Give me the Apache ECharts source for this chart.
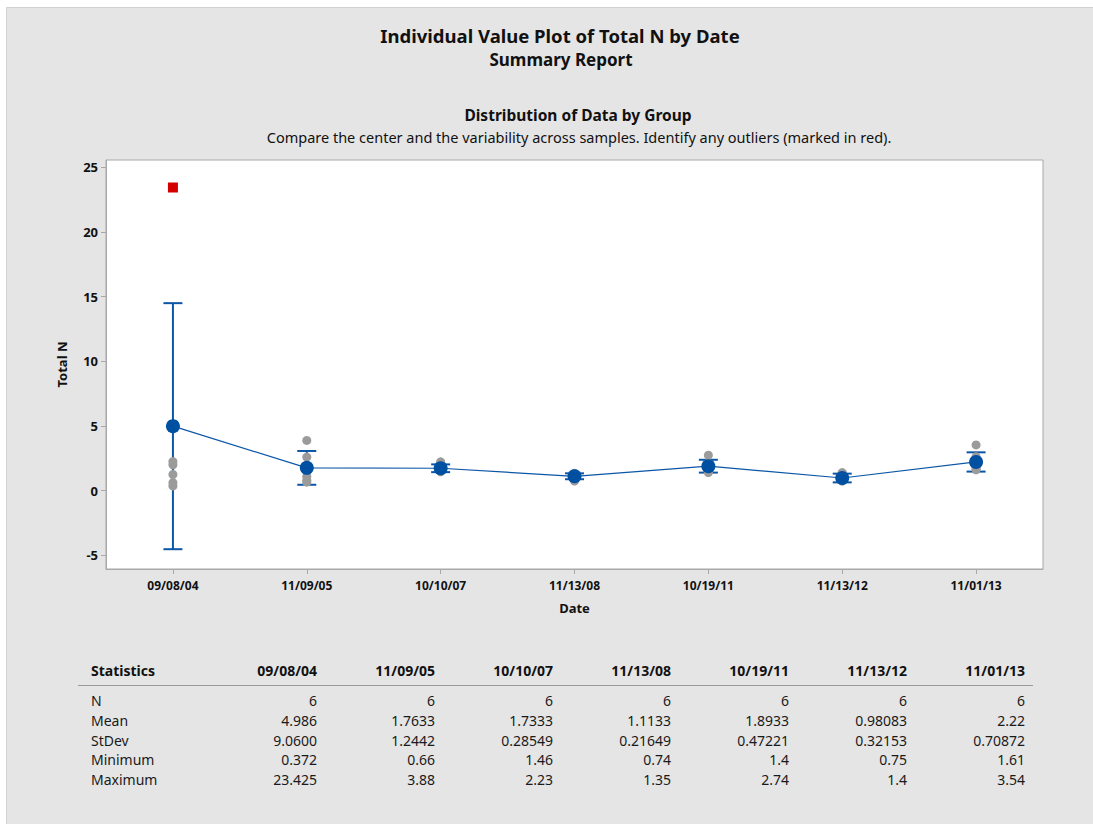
<!DOCTYPE html>
<html>
<head>
<meta charset="utf-8">
<script src="https://cdn.jsdelivr.net/npm/echarts@6/dist/echarts.min.js"></script>
<style>
html,body{margin:0;padding:0;background:#ffffff;}
#chart{width:1093px;height:824px;}
</style>
</head>
<body>
<div id="chart"></div>
<script>
// ---- Data ----
const dates = ['09/08/04','11/09/05','10/10/07','11/13/08','10/19/11','11/13/12','11/01/13'];
// individual values per date (non-outlier)
const vals_090804 = [2.25, 2.0, 1.25, 0.619, 0.372];
const vals_110905 = [0.66, 0.8, 1.1, 1.54, 2.6, 3.88];
const vals_101007 = [1.46, 1.5, 1.6, 1.75, 1.86, 2.23];
const vals_111308 = [0.74, 1.05, 1.12, 1.2, 1.22, 1.35];
const vals_101911 = [1.4, 1.5, 1.7, 1.9, 2.12, 2.74];
const vals_111312 = [0.75, 0.76, 0.8, 0.84, 1.335, 1.4];
const vals_110113 = [1.61, 1.7, 1.85, 2.0, 2.62, 3.54];
const outlierDate = '09/08/04';
const outlierValue = 23.425;
// 95% CI of the mean
const ciLow  = [-4.52, 0.458, 1.434, 0.886, 1.398, 0.643, 1.476];
const ciHigh = [14.49, 3.069, 2.033, 1.341, 2.389, 1.318, 2.964];
// statistics table
const statLabels = ['N','Mean','StDev','Minimum','Maximum'];
const statN     = ['6','6','6','6','6','6','6'];
const statMean  = ['4.986','1.7633','1.7333','1.1133','1.8933','0.98083','2.22'];
const statStDev = ['9.0600','1.2442','0.28549','0.21649','0.47221','0.32153','0.70872'];
const statMin   = ['0.372','0.66','1.46','0.74','1.4','0.75','1.61'];
const statMax   = ['23.425','3.88','2.23','1.35','2.74','1.4','3.54'];
const yTicks = [-5, 0, 5, 10, 15, 20, 25];

// ---- Build ----
const groups = [vals_090804, vals_110905, vals_101007, vals_111308, vals_101911, vals_111312, vals_110113];
const pointData = [];
groups.forEach((g, i) => g.forEach(v => pointData.push([dates[i], v])));
const meanData = statMean.map((m, i) => [dates[i], parseFloat(m)]);
const ciData = dates.map((d, i) => [i, ciLow[i], ciHigh[i]]);

const FONT = '"Noto Sans", "Open Sans", sans-serif';
const BLUE = '#0b56a6';

const graphics = [
  {type:'rect', shape:{x:6.5, y:7.5, width:1100, height:830}, style:{fill:'#e5e5e5', stroke:'#d2d2d2', lineWidth:1}, z:-10, silent:true}
];
// table
const colRight = [317, 435, 553, 671, 789, 907, 1025];
const rowY = [700, 720, 740, 759.5, 779];
const rows = [statN, statMean, statStDev, statMin, statMax];
graphics.push({type:'text', x:91, y:670, style:{text:'Statistics', font:'bold 14px ' + FONT, fill:'#111', textAlign:'left', textVerticalAlign:'middle'}});
dates.forEach((d, i) => graphics.push({type:'text', x:colRight[i], y:670, style:{text:d, font:'bold 14px ' + FONT, fill:'#111', textAlign:'right', textVerticalAlign:'middle'}}));
graphics.push({type:'line', shape:{x1:78, y1:685.5, x2:1033, y2:685.5}, style:{stroke:'#9a9a9a', lineWidth:1}});
statLabels.forEach((lab, r) => {
  graphics.push({type:'text', x:91, y:rowY[r], style:{text:lab, font:'14px ' + FONT, fill:'#1a1a1a', textAlign:'left', textVerticalAlign:'middle'}});
  rows[r].forEach((v, i) => graphics.push({type:'text', x:colRight[i], y:rowY[r], style:{text:v, font:'14px ' + FONT, fill:'#1a1a1a', textAlign:'right', textVerticalAlign:'middle'}}));
});

const chart = echarts.init(document.getElementById('chart'), null, {renderer:'svg'});
chart.setOption({
  backgroundColor:'#ffffff',
  animation:false,
  textStyle:{fontFamily:FONT},
  title:[
    {text:'Individual Value Plot of Total N by Date', left:555, top:21, textAlign:'center', textStyle:{fontSize:18.5, fontWeight:'bold', color:'#111', fontFamily:FONT}},
    {text:'Summary Report', left:556, top:46, textAlign:'center', textStyle:{fontSize:17, fontWeight:'bold', color:'#111', fontFamily:FONT}},
    {text:'Distribution of Data by Group', left:573, top:102, textAlign:'center', textStyle:{fontSize:15.5, fontWeight:'bold', color:'#111', fontFamily:FONT}},
    {text:'Compare the center and the variability across samples. Identify any outliers (marked in red).', left:574, top:124, textAlign:'center', textStyle:{fontSize:14.5, fontWeight:'normal', color:'#111', fontFamily:FONT}}
  ],
  graphic:graphics,
  grid:{left:106, top:160, width:937, height:409, show:true, backgroundColor:'#ffffff', borderColor:'#a8a8a8', borderWidth:1},
  xAxis:{
    type:'category', data:dates, boundaryGap:true,
    name:'Date', nameLocation:'middle', nameGap:32,
    nameTextStyle:{fontSize:13, fontWeight:'bold', color:'#111', fontFamily:FONT},
    axisLine:{show:true, onZero:false, lineStyle:{color:'#a8a8a8'}},
    axisTick:{show:true, alignWithLabel:true, length:5, lineStyle:{color:'#a8a8a8'}},
    axisLabel:{fontSize:12, fontWeight:'bold', color:'#111', margin:10, fontFamily:FONT},
    splitLine:{show:false}
  },
  yAxis:{
    type:'value', min:-6.05, max:25.55,
    name:'Total N', nameLocation:'middle', nameGap:38,
    nameTextStyle:{fontSize:13, fontWeight:'bold', color:'#111', fontFamily:FONT},
    axisLine:{show:true, onZero:false, lineStyle:{color:'#a8a8a8'}},
    axisTick:{show:true, length:5, lineStyle:{color:'#a8a8a8'}, customValues:yTicks},
    axisLabel:{fontSize:13, fontWeight:'bold', color:'#111', margin:8, fontFamily:FONT, customValues:yTicks},
    splitLine:{show:false}
  },
  series:[
    {
      type:'custom', z:2, data:ciData,
      renderItem:function(params, api){
        const x = api.value(0);
        const lo = api.coord([x, api.value(1)]);
        const hi = api.coord([x, api.value(2)]);
        const w = 9.5;
        const st = {stroke:BLUE, lineWidth:2};
        return {type:'group', children:[
          {type:'line', shape:{x1:lo[0], y1:lo[1], x2:hi[0], y2:hi[1]}, style:st},
          {type:'line', shape:{x1:hi[0]-w, y1:hi[1], x2:hi[0]+w, y2:hi[1]}, style:st},
          {type:'line', shape:{x1:lo[0]-w, y1:lo[1], x2:lo[0]+w, y2:lo[1]}, style:st}
        ]};
      }
    },
    {type:'scatter', z:3, data:pointData, symbol:'circle', symbolSize:9, itemStyle:{color:'#9b9b9b', opacity:1}},
    {type:'line', z:4, data:meanData, symbol:'circle', symbolSize:14, lineStyle:{color:BLUE, width:1.2}, itemStyle:{color:'#0050a2', opacity:1}},
    {type:'scatter', z:5, data:[[outlierDate, outlierValue]], symbol:'rect', symbolSize:10, itemStyle:{color:'#d40000', opacity:1}}
  ]
});
</script>
</body>
</html>
